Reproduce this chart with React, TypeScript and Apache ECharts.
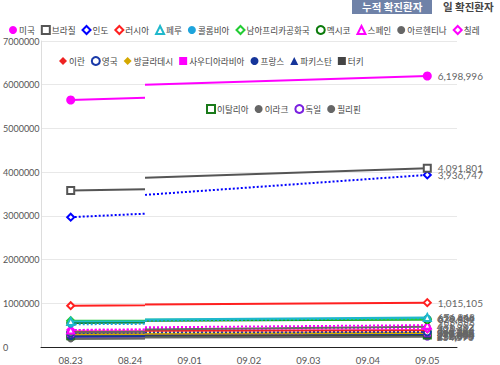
import React, { useEffect, useRef } from "react";
import * as echarts from "echarts";

const categories = ["08.23", "08.24", "09.01", "09.02", "09.03", "09.04", "09.05"];
const yTicks = [0, 1000000, 2000000, 3000000, 4000000, 5000000, 6000000, 7000000];

const countries = [
  "미국", "브라질", "인도", "러시아", "페루", "콜롬비아", "남아프리카공화국", "멕시코", "스페인", "아르헨티나", "칠레",
  "이란", "영국", "방글라데시", "사우디아라비아", "프랑스", "파키스탄", "터키",
  "이탈리아", "이라크", "독일", "필리핀",
];
// value at 08.23
const firstStart = [5650000, 3580000, 2970000, 945000, 585000, 520000, 600000, 550000, 390000, 340000, 390000, 355000, 322000, 290000, 305000, 240000, 292000, 257000, 258000, 190000, 233000, 187000];
// end of first segment (just after 08.24)
const firstEnd = [5700000, 3610000, 3050000, 955000, 590000, 530000, 605000, 560000, 400000, 350000, 395000, 360000, 325000, 295000, 307000, 250000, 293000, 260000, 260000, 200000, 235000, 195000];
// start of second segment
const secondStart = [6000000, 3870000, 3480000, 975000, 630000, 600000, 625000, 600000, 450000, 400000, 410000, 370000, 335000, 305000, 313000, 285000, 296000, 270000, 268000, 230000, 245000, 218000];
// value at 09.05
const lastValue = [6198996, 4091801, 3936747, 1015105, 676848, 658456, 636884, 629409, 498989, 461882, 420434, 384666, 344164, 321615, 320688, 317706, 298903, 279806, 274644, 252075, 250799, 234570];

const colors = ["#ff00ff", "#555555", "#0000ff", "#ff2020", "#1fb8cc", "#1ea4dc", "#22cc33", "#0a7a0a", "#ff00ff", "#666666", "#ff00ff", "#ee2222", "#1a3aa8", "#d4a800", "#ff00ff", "#16359a", "#16359a", "#444444", "#1a7a1a", "#666666", "#7a20e0", "#666666"];
const symbols = ["circle", "emptyRect", "emptyDiamond", "emptyDiamond", "emptyTriangle", "circle", "emptyDiamond", "emptyCircle", "emptyTriangle", "circle", "emptyDiamond", "diamond", "emptyCircle", "diamond", "rect", "circle", "triangle", "rect", "emptyRect", "circle", "emptyCircle", "circle"];
const lineTypes = ["solid", "solid", "dotted", "solid", "solid", "dotted", "solid", "solid", "dotted", "solid", "dotted", "solid", "dotted", "solid", "dotted", "solid", "solid", "solid", "solid", "solid", "solid", "solid"];

const legendRows = [countries.slice(0, 11), countries.slice(11, 18), countries.slice(18)];

export default function App() {
  const ref = useRef<HTMLDivElement>(null);
  useEffect(() => {
    if (!ref.current) return;
    const chart = echarts.init(ref.current, null, { renderer: "svg" });
    const jumpX = 1.25;
    const series = countries.map((name, i) => ({
      name,
      type: "line",
      xAxisIndex: 1,
      yAxisIndex: 0,
      connectNulls: false,
      symbol: symbols[i],
      symbolSize: i === 0 ? 9 : 7,
      color: colors[i],
      lineStyle: { width: 2, type: lineTypes[i], color: colors[i] },
      itemStyle: { color: colors[i], borderWidth: 1.6 },
      z: 30 - i,
      data: [
        { value: [0, firstStart[i]] },
        { value: [jumpX, firstEnd[i]], symbol: "none" },
        { value: [jumpX, "-"] },
        { value: [jumpX, secondStart[i]], symbol: "none" },
        {
          value: [6, lastValue[i]],
          label: {
            show: true,
            position: "right",
            distance: 6,
            fontSize: 10,
            fontFamily: "Lato",
            color: "#666",
            formatter: () => lastValue[i].toLocaleString("en-US"),
          },
        },
      ],
    }));
    const legendLefts = [4, 54, 201];
    const legendTops = [20, 51, 99];
    const option: any = {
      animation: false,
      grid: { left: 40, right: 43, top: 41, bottom: 18 },
      legend: legendRows.map((row, r) => ({
        left: legendLefts[r],
        top: legendTops[r],
        width: 900,
        itemWidth: 8,
        itemHeight: 8,
        itemGap: 6,
        textStyle: { fontSize: 8.6, color: "#444", fontFamily: "Noto Sans CJK KR", padding: [0, 0, 0, -3] },
        data: row.map((n) => {
          const s = symbols[countries.indexOf(n)];
          const empty = s.startsWith("empty");
          return {
            name: n,
            icon: s,
            itemStyle: empty ? { borderWidth: 1.3 } : { borderWidth: 0 },
          };
        }),
      })),
      xAxis: [
        {
          type: "category",
          data: categories,
          axisLine: { lineStyle: { color: "#222", width: 1 } },
          axisTick: { show: false },
          axisLabel: { fontSize: 9.5, color: "#555", fontFamily: "Lato", margin: 8 },
          splitLine: { show: false },
        },
        { type: "value", min: -0.5, max: 6.5, show: false },
      ],
      yAxis: {
        type: "value",
        min: 0,
        max: 7000000,
        interval: 1000000,
        axisLine: { show: true, onZero: false, lineStyle: { color: "#dddddd" } },
        axisTick: { show: false },
        axisLabel: {
          fontSize: 9,
          color: "#555",
          fontFamily: "Lato",
          align: "left",
          margin: 38,
          formatter: (v: number) => (yTicks.includes(v) ? String(v) : ""),
        },
        splitLine: { lineStyle: { color: "#e8e8e8" } },
      },
      graphic: [
        { type: "rect", left: 352, top: 0, shape: { width: 80, height: 14 }, style: { fill: "#6f82a8" } },
        {
          type: "text",
          left: 362,
          top: 1,
          style: { text: "누적 확진환자", fill: "#fff", font: "bold 10.5px 'Noto Sans CJK KR'" },
        },
        {
          type: "text",
          left: 443,
          top: 1,
          style: { text: "일 확진환자", fill: "#444", font: "bold 10.5px 'Noto Sans CJK KR'" },
        },
      ],
      series,
    };
    chart.setOption(option);
    return () => chart.dispose();
  }, []);
  return <div ref={ref} style={{ width: 500, height: 365, position: "absolute", left: 0, top: 0 }} />;
}
